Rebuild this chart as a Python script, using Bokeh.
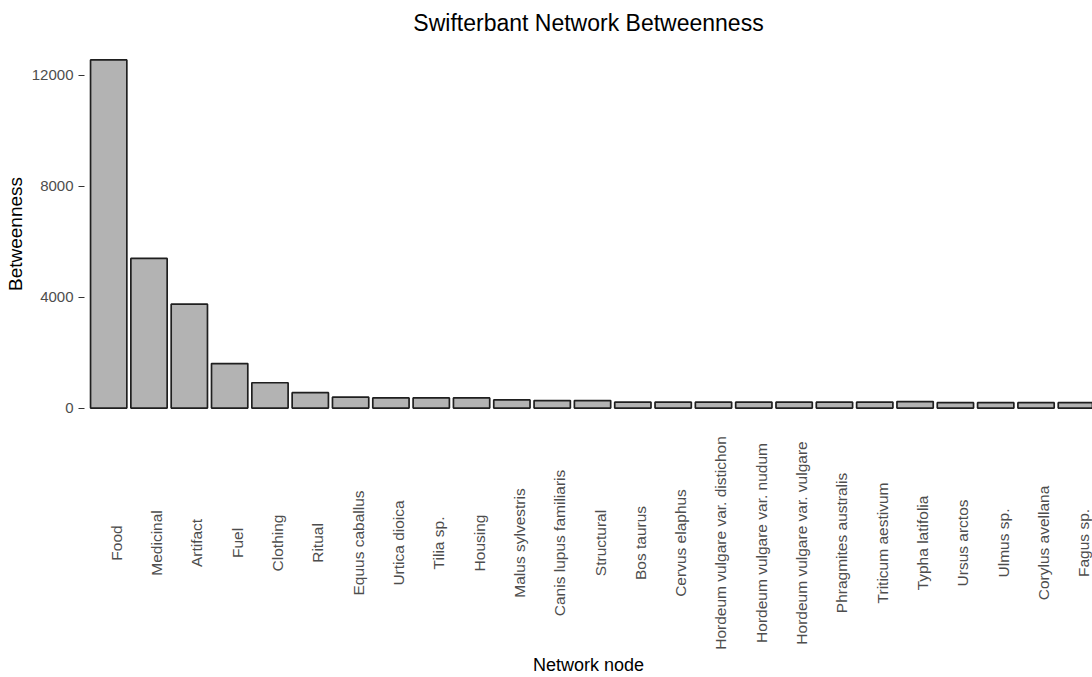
import numpy as np
from bokeh.plotting import figure
from bokeh.layouts import column
from bokeh.models import Range1d, FixedTicker, ColumnDataSource
from bokeh.embed import file_html
from bokeh.resources import INLINE
from bokeh.core.properties import value

# ---- data ----
nodes = [
    "Food", "Medicinal", "Artifact", "Fuel", "Clothing", "Ritual",
    "Equus caballus", "Urtica dioica", "Tilia sp.", "Housing",
    "Malus sylvestris", "Canis lupus familiaris", "Structural", "Bos taurus",
    "Cervus elaphus", "Hordeum vulgare var. distichon",
    "Hordeum vulgare var. nudum", "Hordeum vulgare var. vulgare",
    "Phragmites australis", "Triticum aestivum", "Typha latifolia",
    "Ursus arctos", "Ulmus sp.", "Corylus avellana", "Fagus sp.",
]
betweenness = [
    12560, 5400, 3750, 1605, 915, 555,
    395, 365, 365, 365,
    295, 270, 270, 215,
    215, 215,
    215, 215,
    215, 215, 235,
    195, 195, 195, 195,
]
y_ticks = [0, 4000, 8000, 12000]

FONT = "Liberation Sans"

xs = list(range(len(nodes)))
src = ColumnDataSource(dict(x=xs, top=betweenness, node=nodes))

ymax = max(betweenness)
pad = 0.05 * ymax
xr = Range1d(-0.6, 24.4)

# ---- top figure: bars ----
p = figure(width=1092, height=425, x_range=xr, y_range=Range1d(-pad, ymax + pad),
           output_backend="svg", toolbar_location=None,
           title="Swifterbant Network Betweenness",
           min_border_left=84, min_border_right=0, min_border_top=41, min_border_bottom=0)
p.vbar(x="x", top="top", bottom=0, width=0.9, source=src,
       fill_color="#B3B3B3", line_color="#1F1F1F", line_width=1.7)

p.title.text_font = FONT
p.title.text_font_size = "23px"
p.title.text_font_style = "normal"
p.title.text_color = "#000000"
p.title.align = "center"
p.title.offset = -3
p.title.standoff = 14

p.xaxis.visible = False
p.grid.visible = False
p.outline_line_color = None
p.background_fill_color = "white"
p.border_fill_color = "white"

ya = p.yaxis[0]
ya.ticker = FixedTicker(ticks=y_ticks)
ya.minor_tick_line_color = None
ya.axis_line_color = None
ya.major_tick_line_color = "#333333"
ya.major_tick_line_width = 1.2
ya.major_tick_in = 0
ya.major_tick_out = 6
ya.major_label_standoff = 5
ya.major_label_text_font = FONT
ya.major_label_text_font_size = "15px"
ya.major_label_text_color = "#4D4D4D"
ya.axis_label = "Betweenness"
ya.axis_label_text_font = FONT
ya.axis_label_text_font_size = "19px"
ya.axis_label_text_font_style = "normal"
ya.axis_label_text_color = "#000000"
ya.axis_label_standoff = 3

# ---- bottom figure: category labels ----
p2 = figure(width=1092, height=252, x_range=xr, y_range=Range1d(0, 1),
            output_backend="svg", toolbar_location=None,
            min_border_left=84, min_border_right=0, min_border_top=0, min_border_bottom=0)
p2.text(x="x", y=0.487, text="node", source=src, angle=np.pi / 2,
        text_align="center", text_baseline="middle", x_offset=7.5,
        text_font=value(FONT), text_font_size=value("15.5px"), text_color="#4D4D4D")
p2.yaxis.visible = False
p2.grid.visible = False
p2.outline_line_color = None
xa = p2.xaxis[0]
xa.ticker = FixedTicker(ticks=[])
xa.axis_line_color = None
xa.major_tick_line_color = None
xa.minor_tick_line_color = None
xa.major_label_standoff = 0
xa.axis_label = "Network node"
xa.axis_label_text_font = FONT
xa.axis_label_text_font_size = "18px"
xa.axis_label_text_font_style = "normal"
xa.axis_label_text_color = "#000000"
xa.axis_label_standoff = 0

layout = column(p, p2, spacing=0)
open("out.html", "w").write(file_html(layout, INLINE))
